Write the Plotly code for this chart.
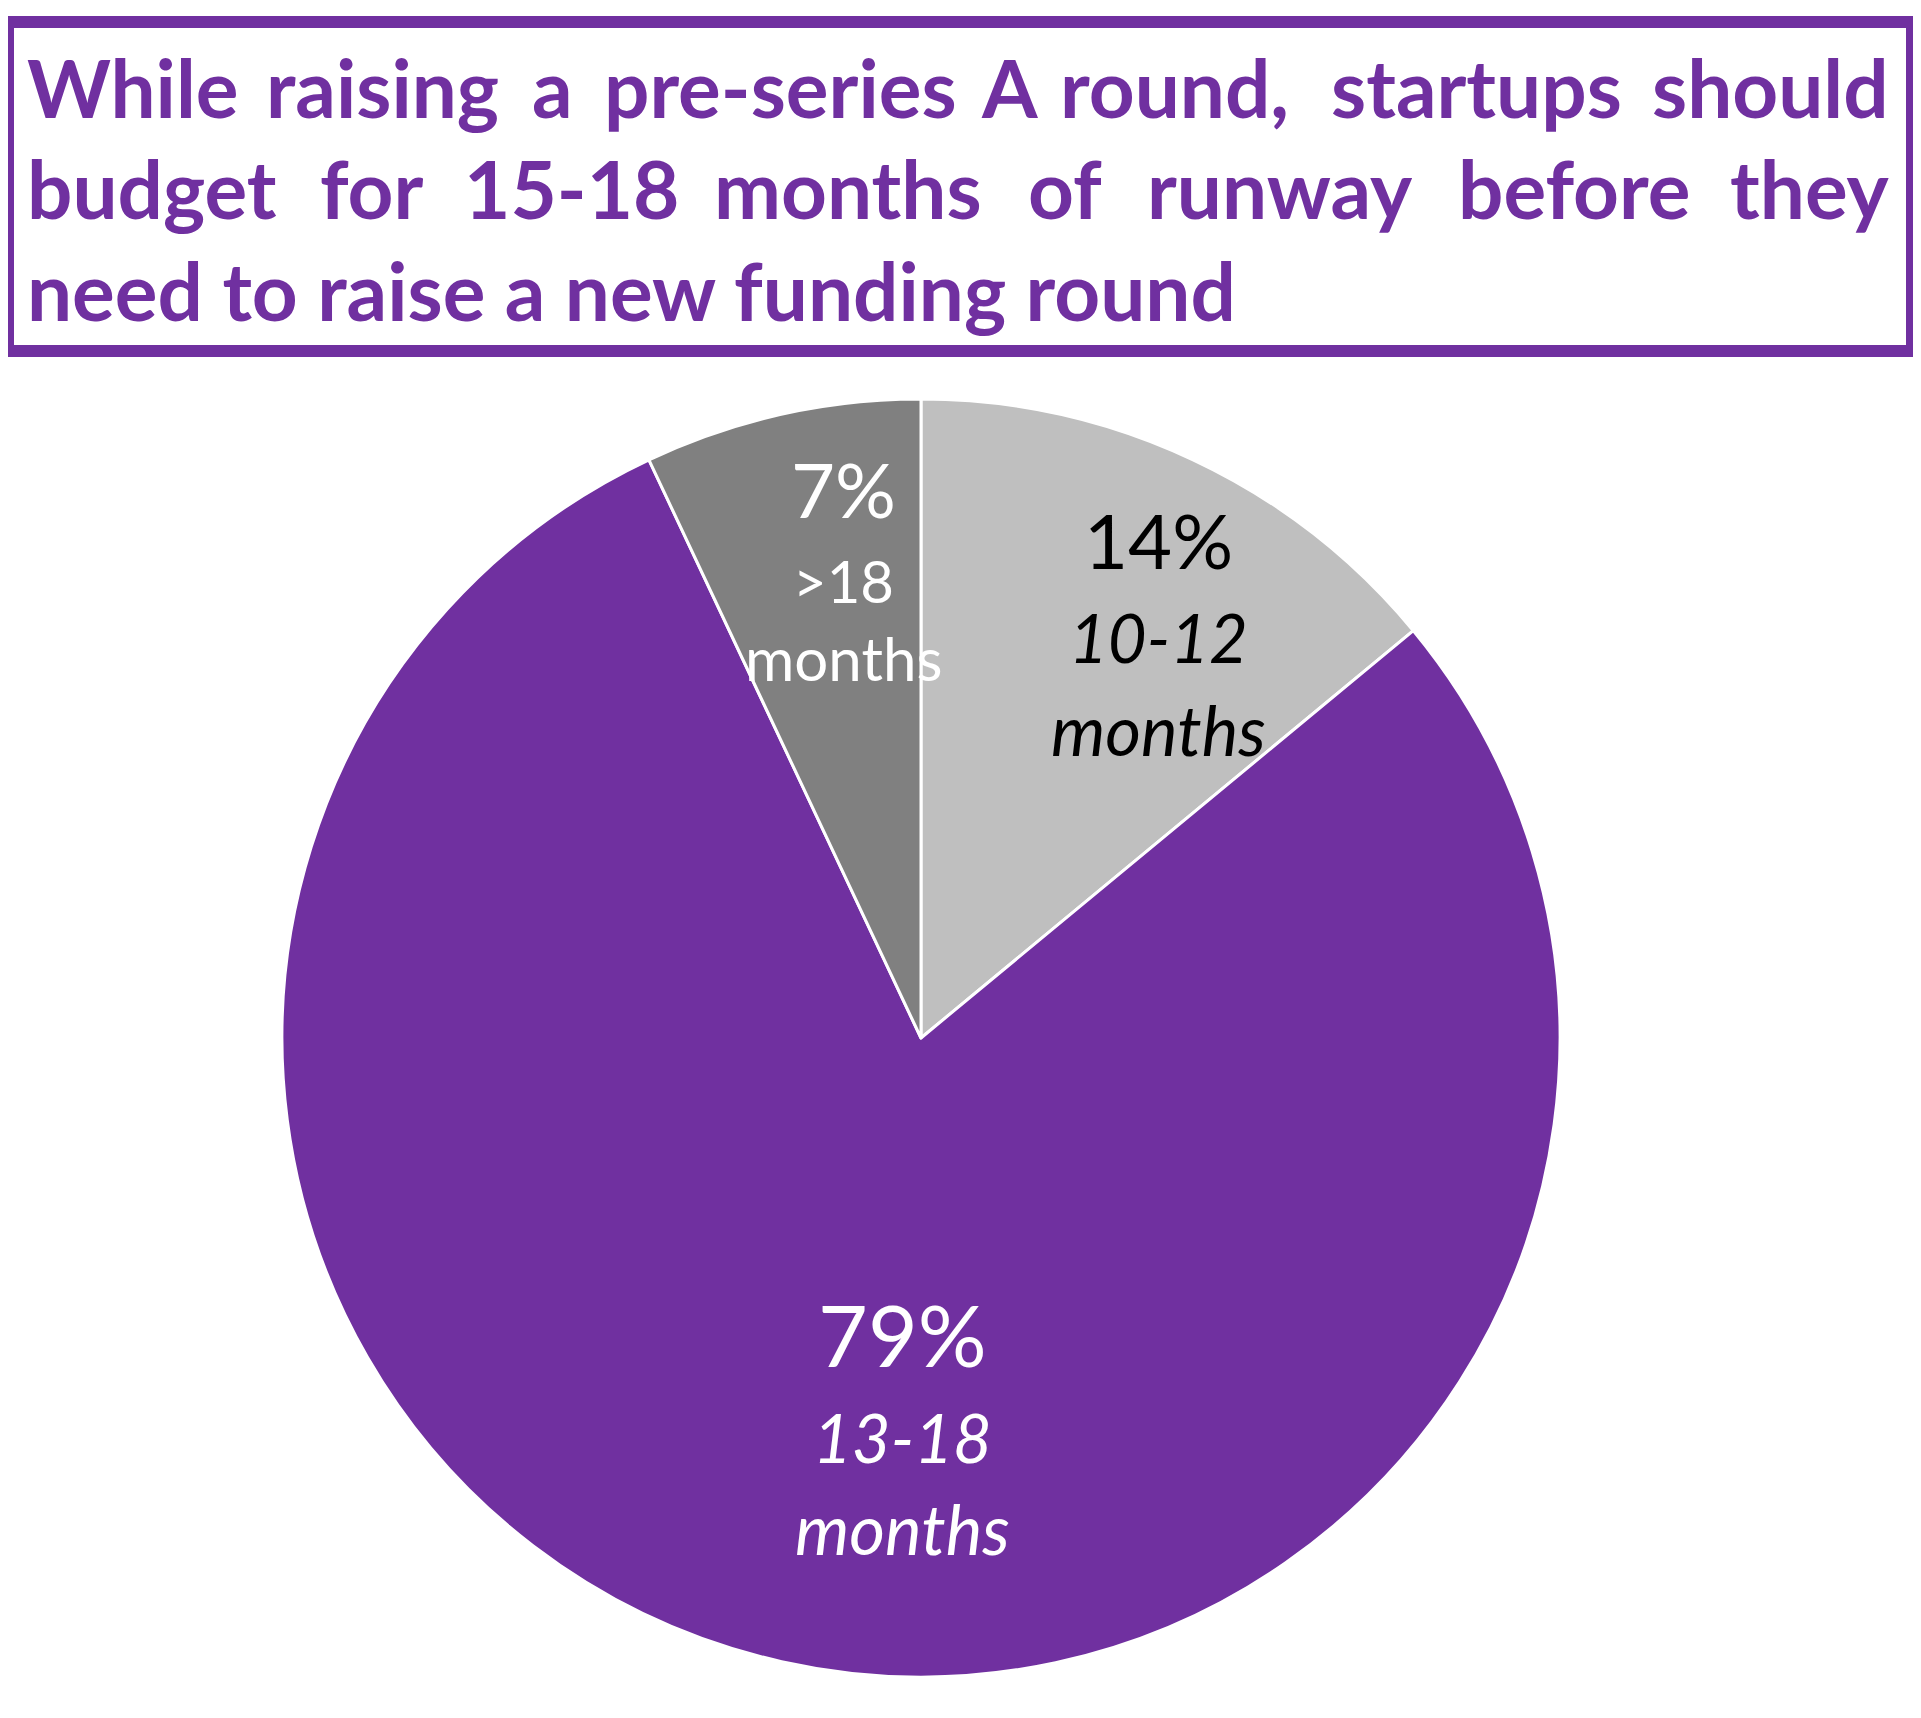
import plotly.graph_objects as go

# data
ranges = ["10-12", "13-18", ">18"]
shares = [14, 79, 7]
slice_colors = ["#BFBFBF", "#7030A0", "#808080"]
label_colors = ["black", "white", "white"]
label_italic = [True, True, False]

title_line1 = ["While", "raising", "a", "pre-series", "A", "round,", "startups", "should"]
title_line2 = ["budget", "for", "15-18", "months", "of", "runway", "before", "they"]
title_line3 = "need to raise a new funding round"

# the page body has an 8px margin, so the figure starts at (8, 8)
OFF = 8
W, H = 1921 - OFF, 1718 - OFF
PURPLE = "#7030A0"
FONT = "Lato"


def fx(px):
    return (px - OFF) / W


def fy(py):
    return 1 - (py - OFF) / H


fig = go.Figure()

# pie centre (921, 1038), radius 639 in page pixels
cx, cy, r = 921, 1038, 639
fig.add_trace(go.Pie(
    labels=[f"{g} months" for g in ranges],
    values=shares,
    marker=dict(colors=slice_colors, line=dict(color="white", width=3)),
    sort=False,
    direction="clockwise",
    rotation=0,
    textinfo="none",
    hoverinfo="label+percent",
    domain=dict(x=[fx(cx - r), fx(cx + r)], y=[fy(cy + r), fy(cy - r)]),
))

# label placement (pixel centres of each text line) and sizes
label_pos = [
    dict(x=1158, ys=[539, 637, 729], sizes=[76, 67, 69]),
    dict(x=902, ys=[1333, 1437, 1528], sizes=[86, 67, 69]),
    dict(x=843, ys=[488, 581, 658], sizes=[76, 58, 60]),
]

annotations = []
for i, pos in enumerate(label_pos):
    lines = [f"{shares[i]}%", ranges[i], "months"]
    for j, txt in enumerate(lines):
        if j > 0 and label_italic[i]:
            txt = f"<i>{txt}</i>"
        annotations.append(dict(
            x=fx(pos["x"]), y=fy(pos["ys"][j]), xref="paper", yref="paper",
            text=txt, showarrow=False, xanchor="center", yanchor="middle",
            font=dict(family=FONT, size=pos["sizes"][j], color=label_colors[i]),
        ))

# justified title, word by word
centres1 = [130, 382, 552, 780, 1010, 1174, 1476, 1771]
centres2 = [151, 372, 571, 848, 1065, 1280, 1574, 1813]
title_size = 80
for words, centres, yc in [(title_line1, centres1, 87), (title_line2, centres2, 188)]:
    for k, (wd, xc) in enumerate(zip(words, centres)):
        anchor = "center"
        x = xc
        if k == 0:
            anchor, x = "left", 25
        elif k == len(words) - 1:
            anchor, x = "right", 1891
        annotations.append(dict(
            x=fx(x), y=fy(yc), xref="paper", yref="paper", text=f"<b>{wd}</b>",
            showarrow=False, xanchor=anchor, yanchor="middle",
            font=dict(family=FONT, size=title_size, color=PURPLE),
        ))
annotations.append(dict(
    x=fx(25), y=fy(290), xref="paper", yref="paper", text=f"<b>{title_line3}</b>",
    showarrow=False, xanchor="left", yanchor="middle",
    font=dict(family=FONT, size=title_size, color=PURPLE),
))

fig.update_layout(
    width=W, height=H,
    margin=dict(l=0, r=0, t=0, b=0),
    paper_bgcolor="white",
    plot_bgcolor="white",
    showlegend=False,
    annotations=annotations,
    shapes=[dict(
        type="rect", xref="paper", yref="paper",
        x0=fx(8), x1=fx(1912), y0=fy(351), y1=fy(22),
        line=dict(color=PURPLE, width=12), fillcolor="rgba(0,0,0,0)",
    )],
)

fig.write_html("out.html")
